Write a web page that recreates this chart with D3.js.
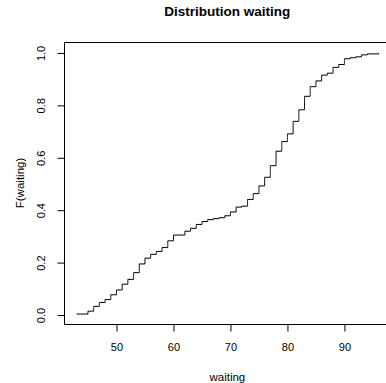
<!DOCTYPE html>
<html>
<head>
<meta charset="utf-8">
<script src="https://cdn.jsdelivr.net/npm/d3@7"></script>
<style>
  body { margin: 0; background: #fff; }
  text { font-family: "Liberation Sans", Arial, Helvetica, sans-serif; fill: #000; }
</style>
</head>
<body>
<svg id="chart"></svg>
<script>
// distinct waiting times and how often each occurs
let waitValues = [43, 45, 46, 47, 48, 49, 50, 51, 52, 53, 54, 55, 56, 57, 58, 59, 60, 62, 63, 64, 65, 66, 67, 68, 69, 70,
                  71, 72, 73, 74, 75, 76, 77, 78, 79, 80, 81, 82, 83, 84, 85, 86, 87, 88, 89, 90, 91, 92, 93, 94, 96];
let waitCounts = [1, 3, 5, 4, 3, 5, 5, 6, 5, 7, 9, 6, 4, 3, 4, 7, 6, 4, 3, 4, 3, 2, 1, 1, 2, 4,
                  5, 1, 7, 6, 8, 9, 12, 15, 10, 8, 13, 12, 14, 10, 6, 6, 2, 6, 3, 6, 1, 1, 2, 1, 1];
let xTicks = [50, 60, 70, 80, 90];
let yTicks = [0, 0.2, 0.4, 0.6, 0.8, 1.0];

function drawEcdf() {
    let w = 386, h = 383;
    let left = 64, top = 42, bottom = 324, right = 390.7;

    let svg = d3.select("#chart")
        .attr("width", w)
        .attr("height", h);

    // expand to sorted sample, F = i/n
    let sample = [];
    waitValues.forEach((v, i) => { for (let k = 0; k < waitCounts[i]; k++) sample.push(v); });
    let n = sample.length;
    let pts = sample.map((v, i) => [v, (i + 1) / n]);

    // R style 4% padding
    let xr = d3.extent(sample), dx = (xr[1] - xr[0]) * 0.04;
    let yr = [1 / n, 1], dy = (yr[1] - yr[0]) * 0.04;

    let x = d3.scaleLinear().domain([xr[0] - dx, xr[1] + dx]).range([left + 0.5, right]);
    let y = d3.scaleLinear().domain([yr[0] - dy, yr[1] + dy]).range([bottom + 0.5, top + 0.5]);

    // box
    svg.append("rect")
        .attr("x", left + 0.5)
        .attr("y", top + 0.5)
        .attr("width", right - left)
        .attr("height", bottom - top)
        .attr("fill", "none")
        .attr("stroke", "#000")
        .attr("stroke-width", 1);

    // step line
    let line = d3.line()
        .x(d => x(d[0]))
        .y(d => y(d[1]))
        .curve(d3.curveStepAfter);

    svg.append("path")
        .datum(pts)
        .attr("d", line)
        .attr("fill", "none")
        .attr("stroke", "#000")
        .attr("stroke-width", 1);

    // x axis
    let xAxis = svg.append("g")
        .attr("transform", `translate(0,${bottom + 0.5})`)
        .call(d3.axisBottom(x).tickValues(xTicks).tickSize(7).tickPadding(12).tickSizeOuter(0));
    xAxis.select(".domain").remove();
    xAxis.selectAll("text").style("font-size", "11px").attr("fill", "#000");
    xAxis.selectAll("line").attr("stroke", "#000");

    // y axis, labels rotated like R
    let yAxis = svg.append("g")
        .attr("transform", `translate(${left + 0.5},0)`)
        .call(d3.axisLeft(y).tickValues(yTicks).tickSize(7).tickFormat(d3.format(".1f")));
    yAxis.select(".domain").remove();
    yAxis.selectAll("line").attr("stroke", "#000");
    yAxis.selectAll("text")
        .style("font-size", "11px")
        .attr("fill", "#000")
        .attr("x", null)
        .attr("dy", null)
        .attr("text-anchor", "middle")
        .attr("transform", "translate(-19.5,0) rotate(-90)");

    // titles
    svg.append("text")
        .attr("x", (left + right) / 2)
        .attr("y", 16)
        .attr("text-anchor", "middle")
        .style("font-size", "13.5px")
        .style("font-weight", "bold")
        .text("Distribution waiting");

    svg.append("text")
        .attr("x", (left + right) / 2)
        .attr("y", 380.5)
        .attr("text-anchor", "middle")
        .style("font-size", "11.5px")
        .text("waiting");

    svg.append("text")
        .attr("transform", `translate(24,${(top + bottom) / 2}) rotate(-90)`)
        .attr("text-anchor", "middle")
        .style("font-size", "11.5px")
        .text("F(waiting)");
}

window.onload = function() {
    drawEcdf();
}
</script>
</body>
</html>
